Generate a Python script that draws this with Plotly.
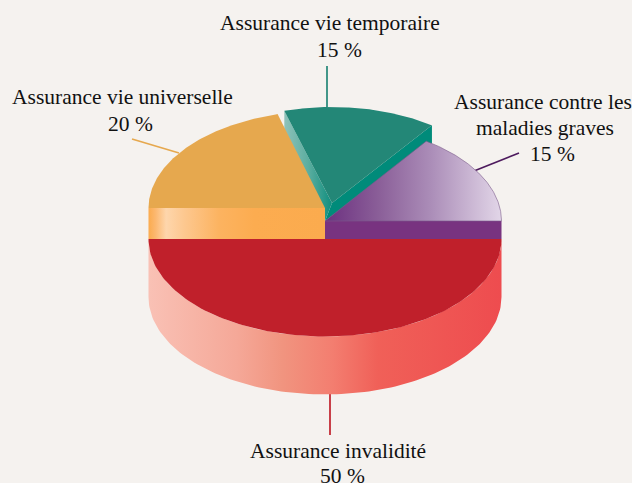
import numpy as np
import plotly.graph_objects as go

# --- data (counter-clockwise from the east point of the pie)
categories = ["Assurance contre les maladies graves", "Assurance vie temporaire",
              "Assurance vie universelle", "Assurance invalidité"]
values = [15, 15, 20, 50]

# --- geometry of the drawing, pixels
CX, RX, RY = 325.0, 176.5, 97.5
BG = "#F5F2EF"
start = np.cumsum([0] + values[:-1]) * 3.6
end = np.cumsum(values) * 3.6


def arc(cx, cy, rx, ry, a0, a1, n=120):
    t = np.radians(np.linspace(a0, a1, n))
    return cx + rx * np.cos(t), cy - ry * np.sin(t)


def wedge(cx, cy, rx, ry, a0, a1):
    x, y = arc(cx, cy, rx, ry, a0, a1)
    return np.r_[cx, x, cx], np.r_[cy, y, cy]


def band(cx, y0, y1, rx, ry, a0, a1):
    x, ytop = arc(cx, y0, rx, ry, a0, a1)
    xb, ybot = arc(cx, y1, rx, ry, a1, a0)
    return np.r_[x, xb, x[0]], np.r_[ytop, ybot, ytop[0]]


fig = go.Figure()


def poly(x, y, color=None, grad=None, line=None, lw=0):
    kw = dict(x=x, y=y, mode="lines", fill="toself", hoverinfo="skip", showlegend=False,
              line=dict(width=lw, color=line or "rgba(0,0,0,0)"))
    if grad:
        kw["fillgradient"] = dict(type="horizontal", colorscale=grad)
    else:
        kw["fillcolor"] = color
    fig.add_trace(go.Scatter(**kw))


# teal slice (pulled out)
TX, TY, TRX, TRY = 332.0, 203.0, 170.0, 96.0
a0, a1 = start[1], end[1] - 1.7
rx_end, ry_end = arc(TX, TY, TRX, TRY, a0, a0, 1)
lx_end, ly_end = arc(TX, TY, TRX, TRY, a1, a1, 1)
TD = 18.0
poly([TX, rx_end[0], rx_end[0], CX, TX], [TY, ry_end[0], ry_end[0] + TD, TY + TD, TY], color="#008B7A")
poly([lx_end[0], TX, CX, lx_end[0], lx_end[0]], [ly_end[0], TY, TY + TD, ly_end[0] + TD, ly_end[0]],
     grad=[[0, "#8FC2BA"], [0.5, "#5CAEA0"], [1, "#0F8E7E"]])
poly(*wedge(TX, TY, TRX, TRY, a0, a1), color="#238777")

# orange slice
OY = 208.0
poly([CX - RX, CX, CX, CX - RX, CX - RX], [OY, OY, 239.0, 239.0, OY],
     grad=[[0, "#FBAB4E"], [0.04, "#FCB870"], [0.10, "#FED6AC"], [0.2, "#FDC890"],
           [0.4, "#FCB360"], [0.6, "#FCAC50"], [1, "#FBAB4E"]])
poly(*wedge(CX, OY, RX, RY, start[2] - 2.4, end[2]), color="#E6A84E")

# purple slice
PY = 221.0
poly([CX, CX + RX, CX + RX, CX, CX], [PY, PY, 239.0, 239.0, PY], color="#783380")
poly(*wedge(CX, PY, RX, RY, start[0], end[0] + 1.0), line="#7A5A8A", lw=0.6,
     grad=[[0, "#6C3080"], [0.3, "#8A5E98"], [0.6, "#AB8DB8"], [1, "#E2D6E8"]])

# red slice
RY0, RD = 239.0, 58.0
poly(*band(CX, RY0, RY0 + RD, RX, RY, start[3], end[3]),
     grad=[[0, "#F9C1B5"], [0.25, "#F5A898"], [0.38, "#F1947F"], [0.52, "#F37E70"],
           [0.65, "#F06058"], [1, "#EE4C4F"]])
poly(*wedge(CX, RY0, RX, RY, start[3], end[3]), color="#C0202B")

# leader lines
leaders = [((327, 66), (327, 107), "#238777"),
           ((132, 139), (179, 153), "#E6A84E"),
           ((519, 153), (474, 171), "#4E1B5E"),
           ((330, 394), (330, 435), "#C0202B")]
shapes = [dict(type="line", xref="x", yref="y", x0=a[0], y0=a[1], x1=b[0], y1=b[1],
               line=dict(color=c, width=1.7), layer="below") for a, b, c in leaders]

# labels
label_lines = [("Assurance vie temporaire", 330, 23), ("15 %", 339, 50),
               ("Assurance vie universelle", 122, 97), ("20 %", 130, 124),
               ("Assurance contre les", 542.5, 102), ("maladies graves", 545, 128), ("15 %", 552, 154),
               ("Assurance invalidité", 338, 451), ("50 %", 342, 476)]
annotations = [dict(text=t, x=x, y=y, xref="x", yref="y", showarrow=False, xanchor="center",
                    yanchor="middle", font=dict(family="Liberation Serif", size=21.5, color="#111111"))
               for t, x, y in label_lines]

fig.update_layout(width=632, height=483, autosize=False, margin=dict(l=0, r=0, t=0, b=0),
                  paper_bgcolor=BG, plot_bgcolor=BG, showlegend=False,
                  xaxis=dict(range=[0, 632], visible=False, fixedrange=True),
                  yaxis=dict(range=[483, 0], visible=False, fixedrange=True),
                  shapes=shapes, annotations=annotations)

fig.write_html("out.html", config={"displayModeBar": False},
               post_script="document.body.style.margin='0';document.body.style.background='%s';" % BG)
